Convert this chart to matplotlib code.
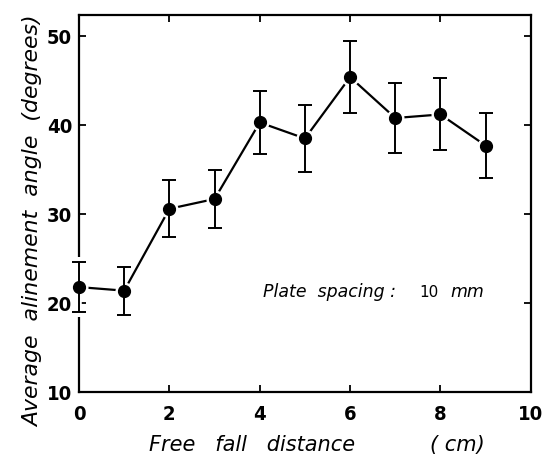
import numpy as np
import matplotlib.pyplot as plt

# data
distance = [0, 1, 2, 3, 4, 5, 6, 7, 8, 9]
angle = [21.8, 21.4, 30.6, 31.7, 40.3, 38.5, 45.4, 40.8, 41.2, 37.7]
err = [2.8, 2.7, 3.2, 3.25, 3.5, 3.8, 4.0, 3.9, 4.05, 3.65]
xticks = [0, 2, 4, 6, 8, 10]
yticks = [10, 20, 30, 40, 50]

fig = plt.figure(figsize=(5.45, 4.57), dpi=100)
ax = fig.add_axes([0.145, 0.142, 0.829, 0.825])

# connecting line, with small white gaps around each dot
ax.plot(distance, angle, '-', color='black', lw=1.6, zorder=1)
ax.plot(distance, angle, 'o', color='white', ms=12, zorder=2.6, clip_on=False)
# the first error bar sits on the left spine, which is broken around it
ax.plot([distance[0]] * 2, [angle[0] - err[0] - 0.6, angle[0] + err[0] + 0.6],
        color='white', lw=4, zorder=2.7, clip_on=False, solid_capstyle='butt')
eb = ax.errorbar(distance, angle, yerr=err, fmt='none', ecolor='black',
                 elinewidth=1.4, capsize=5, capthick=1.4, zorder=3)
for art in eb.lines[1] + eb.lines[2]:
    art.set_clip_on(False)
ax.plot(distance, angle, 'o', color='black', ms=8.5, zorder=4, clip_on=False)

ax.set_xlim(0, 10)
ax.set_ylim(10, 50 + 40 * 21 / 355)
ax.set_xticks(xticks)
ax.set_yticks(yticks)
ax.tick_params(direction='in', top=True, right=True, length=5, width=1.3)
ax.tick_params(axis='x', pad=9)
ax.tick_params(axis='y', pad=5)
for lab in ax.get_xticklabels() + ax.get_yticklabels():
    lab.set_family('DejaVu Sans')
    lab.set_stretch('condensed')
    lab.set_weight('bold')
    lab.set_fontsize(14.5)
for s in ax.spines.values():
    s.set_linewidth(1.6)

fig.text(0.463, 0.027, 'Free   fall   distance', ha='center', va='center',
         style='italic', fontsize=15)
fig.text(0.84, 0.027, '( cm)', ha='center', va='center',
         style='italic', fontsize=15)
fig.text(0.061, 0.515, 'Average  alinement  angle  (degrees)', ha='center',
         va='center', rotation=90, style='italic', fontsize=15.8)

ax.text(0.407, 0.265, 'Plate  spacing :', transform=ax.transAxes, ha='left',
        va='center', style='italic', fontsize=12.5)
ax.text(0.754, 0.265, '10', transform=ax.transAxes, ha='left', va='center',
        fontsize=11)
ax.text(0.821, 0.265, 'mm', transform=ax.transAxes, ha='left', va='center',
        style='italic', fontsize=12.5)

fig.savefig('out.png', dpi=100)
